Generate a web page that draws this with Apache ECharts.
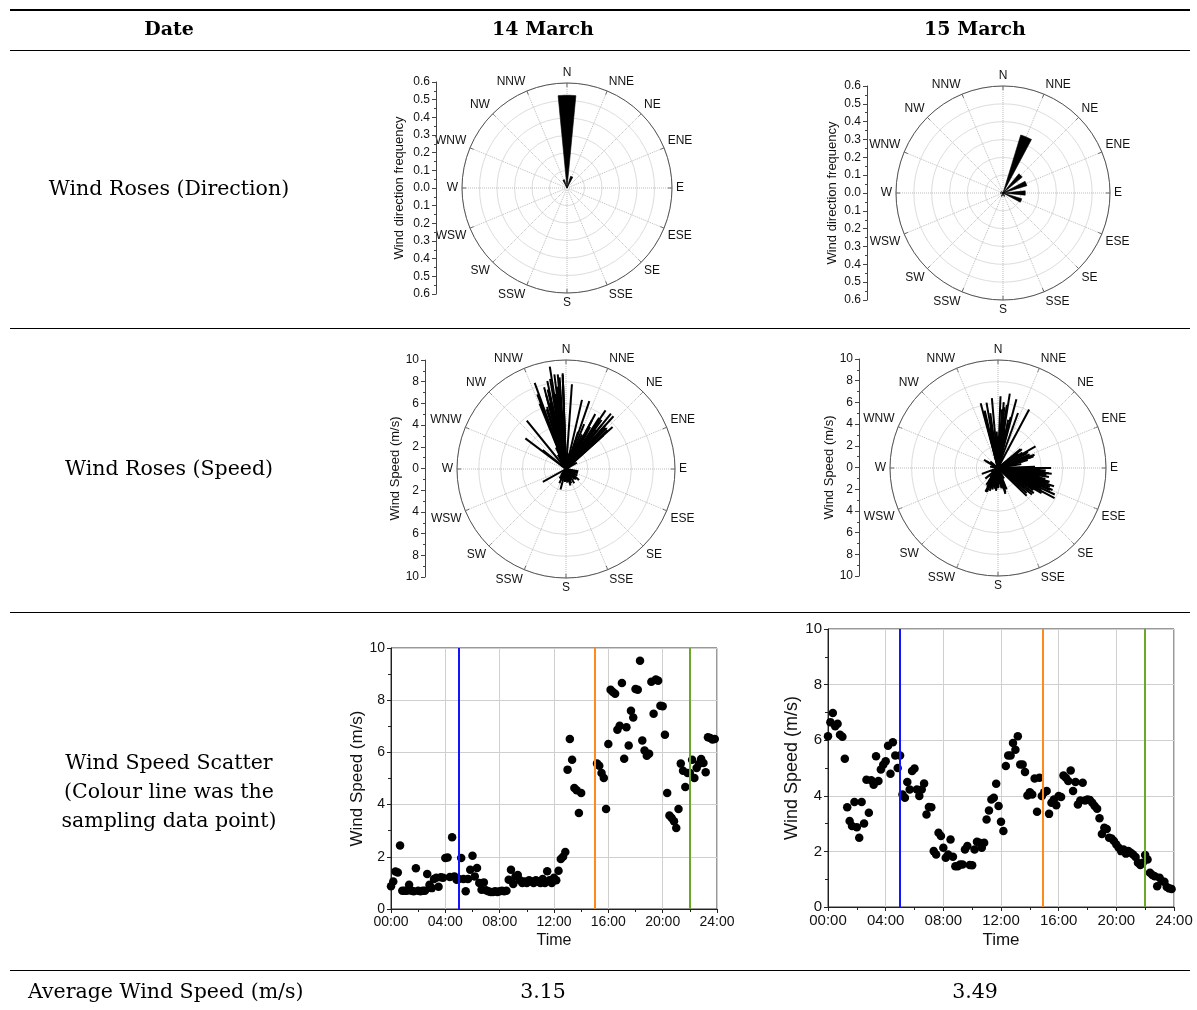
<!DOCTYPE html>
<html>
<head>
<meta charset="utf-8">
<script src="https://cdn.jsdelivr.net/npm/echarts@6/dist/echarts.min.js"></script>
<style>
  html, body { margin: 0; padding: 0; background: #fff; }
  #chart { width: 1197px; height: 1010px; }
</style>
</head>
<body>
<div id="chart"></div>
<script>
// compass labels for the rose angle axes
const DIRECTIONS = ['N', 'NNE', 'NE', 'ENE', 'E', 'ESE', 'SE', 'SSE',
                    'S', 'SSW', 'SW', 'WSW', 'W', 'WNW', 'NW', 'NNW'];

// wind direction frequency (bin centre in degrees, frequency)
const FREQ_14_DIR = [0, 337.5, 22.5];
const FREQ_14_VAL = [0.53, 0.05, 0.07];
const FREQ_15_DIR = [22.5, 45, 67.5, 90, 112.5, 157.5, 202.5, 270, 315];
const FREQ_15_VAL = [0.34, 0.14, 0.14, 0.125, 0.11, 0.02, 0.02, 0.015, 0.01];

// 10-minute wind speed (m/s), one row per hour
const SPEED_14 = [
  0.87, 1.05, 1.44, 1.40, 2.43, 0.70,
  0.70, 0.70, 0.93, 0.70, 0.68, 1.56,
  0.70, 0.68, 0.70, 0.70, 1.34, 0.93,
  0.80, 1.15, 1.20, 0.85, 1.22, 1.20,
  1.95, 1.97, 1.23, 2.75, 1.25, 1.12,
  1.15, 1.95, 1.15, 0.68, 1.15, 1.50,
  2.04, 1.25, 1.57, 1.00, 0.74, 1.02,
  0.72, 0.68, 0.65, 0.65, 0.68, 0.65,
  0.68, 0.70, 0.68, 0.70, 1.12, 1.50,
  0.96, 1.25, 1.30, 1.10, 1.00, 1.05,
  1.00, 1.10, 1.05, 1.00, 1.10, 1.05,
  1.00, 1.15, 1.00, 1.45, 1.10, 1.00,
  1.20, 1.10, 1.47, 1.92, 2.00, 2.18,
  5.34, 6.51, 5.72, 4.64, 4.55, 3.68,
  4.44, null, null, null, null, null,
  null, 5.57, 5.49, 5.21, 5.02, 3.83,
  6.32, 8.40, 8.31, 8.25, 6.87, 7.02,
  8.66, 5.76, 6.96, 6.26, 7.60, 7.34,
  8.43, 8.40, 9.51, 6.46, 6.07, 5.87,
  5.95, 8.71, 7.48, 8.79, 8.75, 7.79,
  7.77, 6.68, 4.44, 3.58, 3.49, 3.36,
  3.10, 3.83, 5.57, 5.30, 4.67, 5.21,
  5.21, 5.72, 5.02, 5.40, 5.56, 5.75,
  5.59, 5.24, 6.58, 6.55, 6.49, 6.51
];
// wind direction (degrees from N) for each 10-minute sample
const DIR_14 = [
  190, 175, 205, 160, 241, 200,
  185, 170, 150, 195, 210, 165,
  180, 200, 220, 175, 135, 160,
  190, 110, 185, 200, 170, 120,
  195, 350, 140, 309, 25, 185,
  100, 340, 165, 180, 60, 150,
  20, 175, 130, 195, 185, 215,
  180, 190, 170, 200, 185, 175,
  195, 160, 205, 180, 45, 330,
  170, 15, 345, 155, 190, 105,
  200, 140, 180, 30, 165, 210,
  185, 350, 175, 10, 120, 195,
  350, 160, 340, 20, 355, 335,
  35, 42, 28, 48, 38, 45,
  30, null, null, null, null, null,
  null, 352, 348, 345, 356, 340,
  355, 340, 358, 348, 350, 345,
  358, 342, 352, 346, 354, 339,
  356, 350, 351, 338, 348, 355,
  343, 355, 347, 358, 353, 4,
  345, 355, 22, 18, 25, 35,
  40, 30, 34, 45, 307, 39,
  47, 321, 28, 42, 36, 48,
  33, 44, 19, 39, 34, 13
];

const SPEED_15 = [
  6.14, 6.65, 6.98, 6.50, 6.59, 6.20,
  6.12, 5.33, 3.59, 3.09, 2.91, 3.78,
  2.87, 2.49, 3.78, 3.00, 4.58, 3.39,
  4.56, 4.40, 5.42, 4.53, 4.95, 5.12,
  5.24, 5.80, 4.79, 5.93, 5.45, 5.00,
  5.45, 4.05, 3.93, 4.50, 4.23, 4.89,
  4.98, 4.23, 3.99, 4.23, 4.44, 3.33,
  3.60, 3.59, 2.01, 1.89, 2.67, 2.55,
  2.13, 1.77, 1.89, 2.43, 1.81, 1.47,
  1.47, 1.53, 1.53, 2.07, 2.19, 1.51,
  1.50, 2.07, 2.35, 2.31, 2.13, 2.31,
  3.15, 3.47, 3.87, 3.93, 4.43, 3.63,
  3.07, 2.73, 5.07, 5.45, 5.45, 5.90,
  5.66, 6.14, 5.13, 5.13, 4.86, 4.01,
  4.13, 4.05, 4.62, 3.43, 4.65, 3.99,
  4.13, 4.17, 3.35, 3.75, 3.87, 3.66,
  3.99, 3.96, 4.73, 4.65, 4.53, 4.91,
  4.17, 4.50, 3.69, 3.83, 4.47, 3.83,
  3.87, 3.85, 3.75, 3.63, 3.53, 3.19,
  2.63, 2.85, 2.81, 2.49, 2.46, 2.37,
  2.25, 2.13, 2.01, 2.07, 1.92, 2.01,
  1.95, 1.89, 1.80, 1.59, 1.51, 1.59,
  1.87, 1.71, 1.23, 1.15, 1.11, 0.75,
  1.05, 0.93, 0.91, 0.72, 0.67, 0.65
];
const DIR_15 = [
  350, 2, 9, 355, 15, 345,
  5, 346, 10, 352, 0, 349,
  356, 207, 3, 63, 351, 358,
  12, 95, 20, 98, 105, 110,
  113, 115, 100, 118, 108, 96,
  112, 125, 92, 103, 118, 106,
  110, 97, 128, 115, 100, 120,
  70, 93, 165, 200, 58, 75,
  185, 210, 160, 205, 170, 195,
  190, 230, 175, 65, 80, 215,
  300, 160, 163, 55, 205, 70,
  62, 72, 95, 102, 93, 115,
  68, 50, 346, 4, 347, 8,
  6, 28, 352, 6, 14, 60,
  98, 104, 112, 88, 107, 95,
  116, 110, 72, 100, 122, 106,
  103, 113, 96, 120, 111, 90,
  108, 117, 134, 99, 105, 125,
  114, 102, 120, 94, 131, 67,
  60, 75, 52, 164, 208, 70,
  200, 158, 185, 195, 170, 210,
  190, 215, 178, 250, 165, 200,
  180, 195, 300, 220, 150, 280,
  190, 310, 170, 240, 200, 285
];

// sampling times (hours) marked by the coloured lines
const SAMPLE_HOURS_14 = [5, 15, 22];
const SAMPLE_HOURS_15 = [5, 14.9, 22];
const SAMPLE_COLORS = ['#1414ff', '#ff8a1c', '#6aa82a'];

const DATES = ['14 March', '15 March'];
const AVG_SPEED = ['3.15', '3.49'];

const SANS = '"Liberation Sans", Arial, sans-serif';
const SERIF = '"DejaVu Serif", serif';
const WEDGE = 11; // wedge width in degrees

const chart = echarts.init(document.getElementById('chart'));

function wedgeItem(params, api) {
    const r = api.value(0), a = api.value(1);
    const pts = [api.coord([0, a])];
    for (let k = 0; k <= 10; k++) pts.push(api.coord([r, a - WEDGE / 2 + WEDGE * k / 10]));
    return { type: 'polygon', shape: { points: pts }, style: { fill: '#000', stroke: '#000', lineWidth: 0.6 } };
}

function spokeItem(params, api) {
    const p0 = api.coord([0, api.value(1)]);
    const p1 = api.coord([api.value(0), api.value(1)]);
    return { type: 'line', shape: { x1: p0[0], y1: p0[1], x2: p1[0], y2: p1[1] }, style: { stroke: '#000', lineWidth: 2 } };
}

function angleAxis(i) {
    return {
        polarIndex: i, type: 'value', min: 0, max: 360, interval: 22.5,
        startAngle: 90, clockwise: true,
        axisLine: { lineStyle: { color: '#555', width: 1 } },
        axisTick: { show: true, inside: true, length: 4, lineStyle: { color: '#555' } },
        axisLabel: { formatter: v => DIRECTIONS[Math.round(v / 22.5) % 16], color: '#111', fontSize: 12, fontFamily: SANS, margin: 4 },
        splitLine: { lineStyle: { type: 'dotted', color: '#bbb' } }
    };
}

function radiusAxis(i, max, interval) {
    return {
        polarIndex: i, type: 'value', min: 0, max: max, interval: interval,
        axisLine: { show: false }, axisTick: { show: false }, axisLabel: { show: false },
        splitLine: { lineStyle: { color: '#ddd' } }
    };
}

function sideAxis(i, max, interval, digits, name, gap) {
    return {
        gridIndex: i, type: 'value', min: -max, max: max, interval: interval, position: 'left',
        axisLine: { show: true, lineStyle: { color: '#444' } },
        axisTick: { show: true, length: 4, lineStyle: { color: '#444' } },
        minorTick: { show: true, splitNumber: 2, length: 2, lineStyle: { color: '#444' } },
        axisLabel: { formatter: v => Math.abs(v).toFixed(digits), fontSize: 12, color: '#111', fontFamily: SANS, margin: 6 },
        splitLine: { show: false },
        name: name, nameLocation: 'middle', nameGap: gap,
        nameTextStyle: { fontSize: 13, color: '#111', fontFamily: SANS }
    };
}

function timeAxis(i, fs, gap) {
    return {
        gridIndex: i, type: 'value', min: 0, max: 24, interval: 4,
        axisLine: { lineStyle: { color: '#222' } },
        axisTick: { length: 4, lineStyle: { color: '#222' } },
        minorTick: { show: true, splitNumber: 2, length: 3, lineStyle: { color: '#222' } },
        axisLabel: { formatter: v => String(v).padStart(2, '0') + ':00', fontSize: fs, color: '#111', fontFamily: SANS, margin: 6 },
        splitLine: { lineStyle: { color: '#cfcfcf' } },
        name: 'Time', nameLocation: 'middle', nameGap: gap,
        nameTextStyle: { fontSize: fs + 2, color: '#111', fontFamily: SANS }
    };
}

function speedAxis(i, fs, gap) {
    return {
        gridIndex: i, type: 'value', min: 0, max: 10, interval: 2,
        axisLine: { show: true, lineStyle: { color: '#222' } },
        axisTick: { show: true, length: 4, lineStyle: { color: '#222' } },
        minorTick: { show: true, splitNumber: 2, length: 3, lineStyle: { color: '#222' } },
        axisLabel: { fontSize: fs, color: '#111', fontFamily: SANS, margin: 6 },
        splitLine: { lineStyle: { color: '#cfcfcf' } },
        name: 'Wind Speed (m/s)', nameLocation: 'middle', nameGap: gap,
        nameTextStyle: { fontSize: fs + 3, color: '#111', fontFamily: SANS }
    };
}

function scatterSeries(i, speeds, hours) {
    return {
        type: 'scatter', xAxisIndex: i, yAxisIndex: i,
        data: speeds.map((v, k) => v == null ? null : [k / 6, v]).filter(Boolean),
        symbolSize: 8.5, itemStyle: { color: '#000', opacity: 1 },
        markLine: {
            symbol: ['none', 'none'], silent: true, label: { show: false },
            data: hours.map((h, k) => ({ xAxis: h, lineStyle: { color: SAMPLE_COLORS[k], type: 'solid', width: 2 } }))
        }
    };
}

function hline(y, w) {
    return { type: 'line', shape: { x1: 10, y1: y, x2: 1190, y2: y }, style: { stroke: '#000', lineWidth: w } };
}
function label(text, x, y, font, align) {
    return { type: 'text', style: { text: text, x: x, y: y, font: font, fill: '#000',
        textAlign: align || 'center', align: align || 'center', textVerticalAlign: 'middle', verticalAlign: 'middle', lineHeight: 29 } };
}

const option = {
    animation: false,
    backgroundColor: '#fff',
    polar: [
        { center: [567, 188], radius: 105 },
        { center: [1003, 193], radius: 107 },
        { center: [566, 469], radius: 109 },
        { center: [998, 468], radius: 108 }
    ],
    angleAxis: [angleAxis(0), angleAxis(1), angleAxis(2), angleAxis(3)],
    radiusAxis: [radiusAxis(0, 0.6, 0.1), radiusAxis(1, 0.6, 0.1), radiusAxis(2, 10, 2), radiusAxis(3, 10, 2)],
    grid: [
        { left: 436, top: 82, width: 1, height: 212 },
        { left: 867, top: 86, width: 1, height: 214 },
        { left: 425, top: 360, width: 1, height: 217 },
        { left: 859, top: 359, width: 1, height: 217 },
        { left: 391, top: 648, width: 326, height: 261, show: true, borderColor: '#333', borderWidth: 1 },
        { left: 828, top: 629, width: 346, height: 278, show: true, borderColor: '#333', borderWidth: 1 }
    ],
    xAxis: [
        { gridIndex: 0, type: 'value', show: false },
        { gridIndex: 1, type: 'value', show: false },
        { gridIndex: 2, type: 'value', show: false },
        { gridIndex: 3, type: 'value', show: false },
        timeAxis(4, 14, 24),
        timeAxis(5, 15, 25)
    ],
    yAxis: [
        sideAxis(0, 0.6, 0.1, 1, 'Wind direction frequency', 30),
        sideAxis(1, 0.6, 0.1, 1, 'Wind direction frequency', 28),
        sideAxis(2, 10, 2, 0, 'Wind Speed (m/s)', 17),
        sideAxis(3, 10, 2, 0, 'Wind Speed (m/s)', 20),
        speedAxis(4, 14, 20),
        speedAxis(5, 15, 26)
    ],
    series: [
        { type: 'custom', coordinateSystem: 'polar', polarIndex: 0, renderItem: wedgeItem,
          data: FREQ_14_VAL.map((v, k) => [v, FREQ_14_DIR[k]]) },
        { type: 'custom', coordinateSystem: 'polar', polarIndex: 1, renderItem: wedgeItem,
          data: FREQ_15_VAL.map((v, k) => [v, FREQ_15_DIR[k]]) },
        { type: 'custom', coordinateSystem: 'polar', polarIndex: 2, renderItem: spokeItem,
          data: SPEED_14.map((v, k) => [v, DIR_14[k]]).filter(d => d[0] != null) },
        { type: 'custom', coordinateSystem: 'polar', polarIndex: 3, renderItem: spokeItem,
          data: SPEED_15.map((v, k) => [v, DIR_15[k]]).filter(d => d[0] != null) },
        scatterSeries(4, SPEED_14, SAMPLE_HOURS_14),
        scatterSeries(5, SPEED_15, SAMPLE_HOURS_15)
    ],
    graphic: [
        hline(10, 2),
        hline(50.5, 1),
        hline(328.5, 1),
        hline(612.5, 1),
        hline(970.5, 1),
        label('Date', 169, 30, 'bold 19px ' + SERIF),
        label(DATES[0], 543, 30, 'bold 19px ' + SERIF),
        label(DATES[1], 975, 30, 'bold 19px ' + SERIF),
        label('Wind Roses (Direction)', 169, 190, '20.5px ' + SERIF),
        label('Wind Roses (Speed)', 169, 470, '20.5px ' + SERIF),
        label('Wind Speed Scatter\n(Colour line was the\nsampling data point)', 169, 793, '20.5px ' + SERIF),
        label('Average Wind Speed (m/s)', 28, 993, '20.5px ' + SERIF, 'left'),
        label(AVG_SPEED[0], 543, 993, '20.5px ' + SERIF),
        label(AVG_SPEED[1], 975, 993, '20.5px ' + SERIF)
    ]
};

chart.setOption(option);
</script>
</body>
</html>
